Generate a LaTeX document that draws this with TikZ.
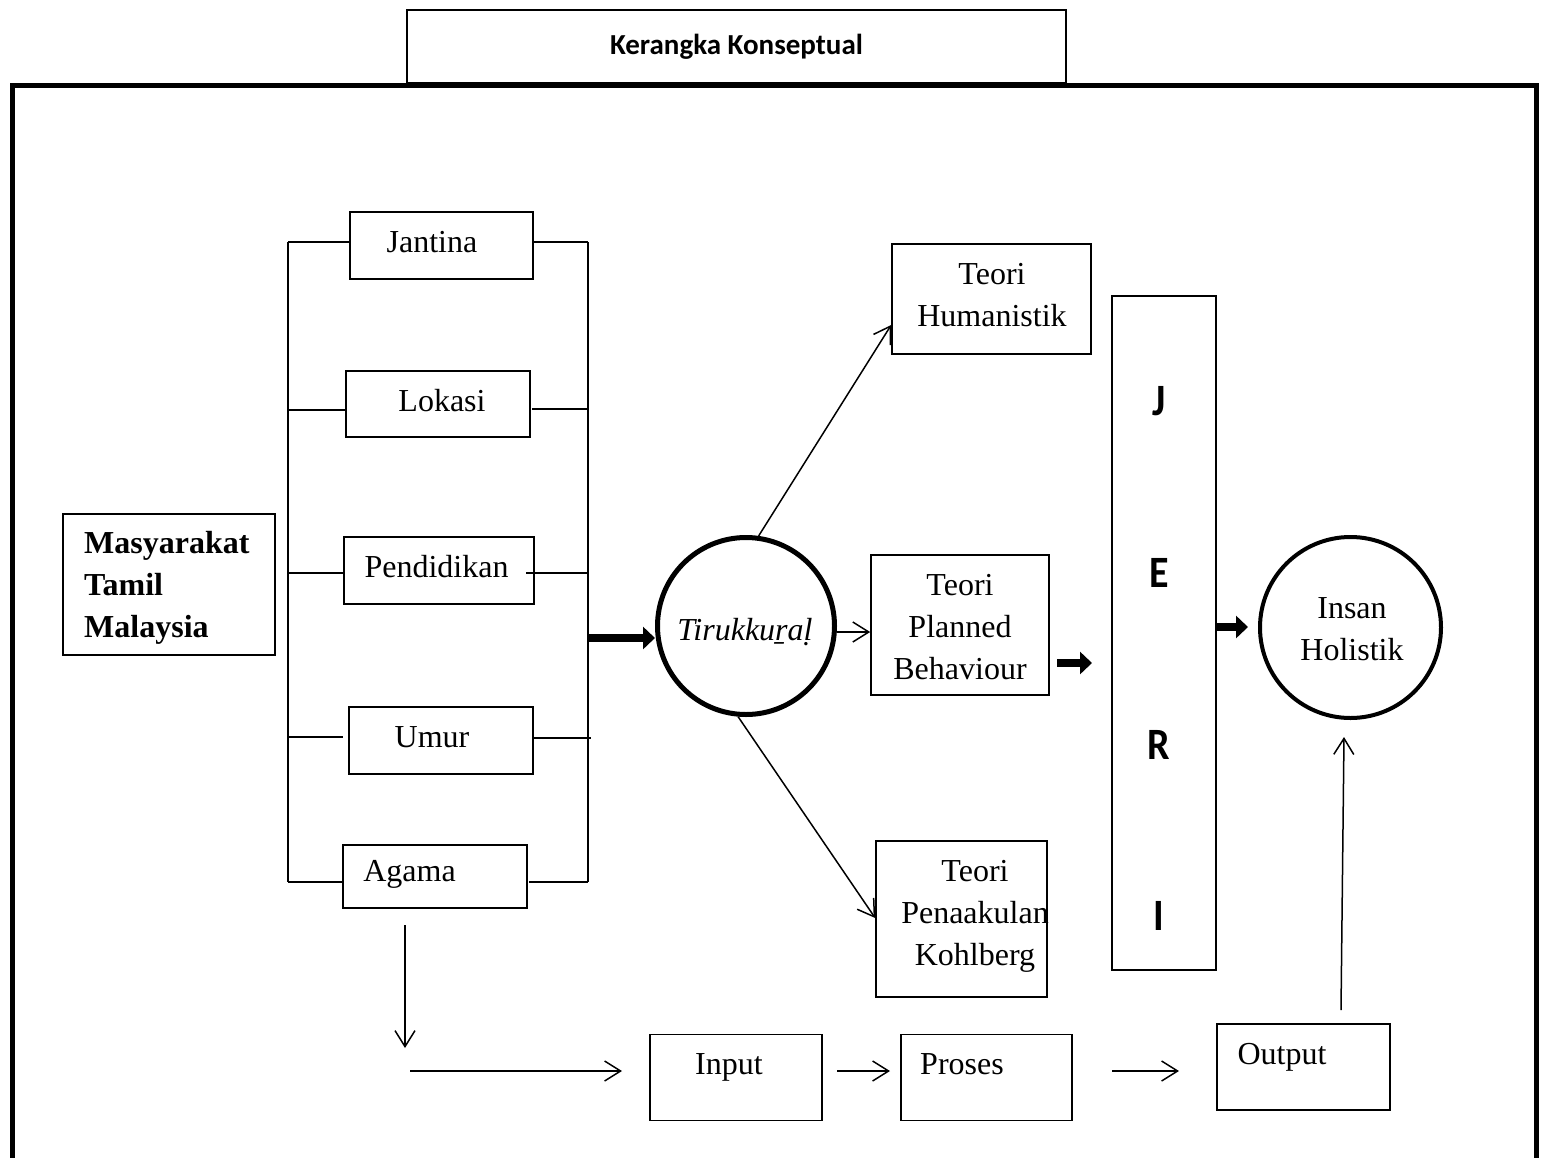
\documentclass[tikz,border=0pt]{standalone}
\usepackage{fontspec}
\setmainfont{Liberation Serif}
\newfontfamily\calib{Carlito}
\usetikzlibrary{arrows.meta}
\begin{document}
\begin{tikzpicture}[x=1pt,y=-1pt,
  box/.style={draw, line width=1.6pt, inner sep=0pt},
  txt/.style={font=\fontsize{32}{42}\selectfont, inner sep=0pt, text height=21pt, text depth=0pt},
  mtxt/.style={font=\fontsize{32}{42}\selectfont, inner sep=0pt, align=center},
  ln/.style={line width=1.6pt},
  arr/.style={line width=1.5pt, -{Straight Barb[length=16pt,width=20pt]}},
  fat/.style={line width=8pt, -{Triangle[length=12pt,width=22pt]}},
  jeri/.style={font=\calib\bfseries\fontsize{40}{44}\selectfont, inner sep=0pt, text height=26pt, text depth=0pt, yscale=1.12}
]
\useasboundingbox (0,0) rectangle (1545,1157);
\fill[white] (0,0) rectangle (1545,1157);

% outer frame
\draw[line width=5pt] (12,1165) -- (12,85) -- (1536,85) -- (1536,1165);

% title
\node[box, minimum width=659pt, minimum height=73pt, font=\calib\bfseries\fontsize{29}{34}\selectfont] (title) at (736.5,46.5) {Kerangka Konseptual};

% left box
\node[box, minimum width=212pt, minimum height=141pt] (mas) at (169,584.5) {};
\node[font=\bfseries\fontsize{32}{42}\selectfont, align=left, inner sep=0pt, anchor=west] (mastxt) at (84,588) {Masyarakat\\Tamil\\Malaysia};

% factor boxes
\node[box, minimum width=183pt, minimum height=67pt] (jan) at (441.5,245.5) {};
\node[txt] (jantxt) at (432,242) {Jantina};
\node[box, minimum width=184pt, minimum height=66pt] (lok) at (438,404) {};
\node[txt] (loktxt) at (442,401) {Lokasi};
\node[box, minimum width=190pt, minimum height=67pt] (pen) at (439,570.5) {};
\node[txt] (pentxt) at (436.5,567) {Pendidikan};
\node[box, minimum width=184pt, minimum height=67pt] (umr) at (441,740.5) {};
\node[txt] (umrtxt) at (432,737) {Umur};
\node[box, minimum width=184pt, minimum height=63pt] (aga) at (435,876.5) {};
\node[txt] (agatxt) at (409.5,871) {Agama};

% brackets
\coordinate (LT) at (288,242);
\coordinate (LB) at (288,882);
\coordinate (RT) at (588,242);
\coordinate (RB) at (588,882);
\draw[ln] (LT) -- (LB);
\draw[ln] (RT) -- (RB);
\draw[ln] (LT) -- (jan.west |- LT);
\draw[ln] (jan.east |- RT) -- (RT);
\draw[ln] (288,410) -- (lok.west |- 0,410);
\draw[ln] (532,409) -- (588,409);
\draw[ln] (288,573) -- (pen.west |- 0,573);
\draw[ln] (526,573) -- (588,573);
\draw[ln] (288,737) -- (343,737);
\draw[ln] (umr.east |- 0,738) -- (591,738);
\draw[ln] (LB) -- (aga.west |- LB);
\draw[ln] (529,882) -- (RB);

% Tirukkural
\node[circle, draw, line width=5pt, minimum size=177pt, inner sep=0pt] (tiru) at (746,626) {};
\node[txt, font=\itshape\fontsize{32}{42}\selectfont] (tirutxt) at (745,630) {Tirukkuṟaḷ};
\draw[fat] (588,638) -- (tiru.west |- 0,638);

% theories
\node[box, minimum width=199pt, minimum height=110pt] (hum) at (991.5,299) {};
\node[mtxt] (humtxt) at (992,295) {Teori\\Humanistik};
\node[box, minimum width=178pt, minimum height=140pt] (plan) at (960,625) {};
\node[mtxt] (plantxt) at (960,627.5) {Teori\\Planned\\Behaviour};
\node[box, minimum width=171pt, minimum height=156pt] (koh) at (961.5,919) {};
\node[mtxt] (kohtxt) at (975,916.5) {Teori\\Penaakulan\\Kohlberg};

\draw[arr] (tiru.82) -- (hum.west |- 0,325);
\draw[arr] (tiru.east |- 0,632) -- (plan.west |- 0,632);
\draw[arr] (tiru.-95) -- (koh.west |- 0,918);

% JERI
\node[box, minimum width=104pt, minimum height=674pt] (jeri) at (1164,633) {};
\node[jeri] (jj) at (1159,401) {J};
\node[jeri] (je) at (1159,573) {E};
\node[jeri] (jr) at (1159,745) {R};
\node[jeri] (ji) at (1159,916) {I};
\coordinate (pj1) at (1057,663);
\coordinate (pj2) at (1092,663);
\draw[fat] (pj1) -- (pj2);

% Insan Holistik
\node[circle, draw, line width=4pt, minimum size=181pt, inner sep=0pt] (ins) at (1350.5,627.5) {};
\node[mtxt] (instxt) at (1352,629) {Insan\\Holistik};
\coordinate (ji1) at (1248,627);
\draw[fat] (jeri.east |- ji1) -- (ji1);

% bottom flow
\node[box, minimum width=172pt, minimum height=86pt] (inp) at (736,1077.5) {};
\node[txt] (inptxt) at (729,1064) {Input};
\node[box, minimum width=171pt, minimum height=86pt] (pro) at (986.5,1077.5) {};
\node[txt] (protxt) at (962,1064) {Proses};
\node[box, minimum width=173pt, minimum height=86pt] (out) at (1303.5,1067) {};
\node[txt] (outtxt) at (1282,1054) {Output};

\coordinate (a1) at (405,925);
\coordinate (a2) at (405,1048);
\draw[arr] (a1) -- (a2);
\coordinate (h1) at (410,1071);
\coordinate (h2) at (622,1071);
\draw[arr] (h1) -- (h2);
\coordinate (ip1) at (837,1071);
\coordinate (ip2) at (890,1071);
\draw[arr] (ip1) -- (ip2);
\coordinate (po1) at (1112,1071);
\coordinate (po2) at (1179,1071);
\draw[arr] (po1) -- (po2);
\coordinate (oi1) at (1341,1010);
\coordinate (oi2) at (1344,737);
\draw[arr] (oi1) -- (oi2);
\end{tikzpicture}
\end{document}
